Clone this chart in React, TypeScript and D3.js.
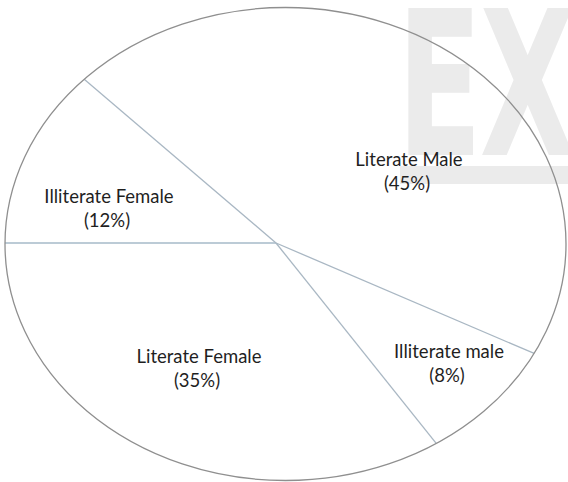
import React from "react";
import * as d3 from "d3";

// ---- data ----
const categories = ["Illiterate Female", "Literate Male", "Illiterate male", "Literate Female"];
const values = [12, 45, 8, 35];
const percentLabels = ["(12%)", "(45%)", "(8%)", "(35%)"];
const watermarkText = "EXA";

// ---- layout ----
const W = 568;
const H = 482;
const pieCenter = { x: 276, y: 243 };
const ell = { cx: 285.5, cy: 244, rx: 280.5, ry: 236.5 };
const stretch = 1.1; // horizontal stretch of the pie's angles
const labelPos = [
  { x: 109, y: 203 },
  { x: 409, y: 166 },
  { x: 449, y: 358 },
  { x: 199, y: 363 },
];

function rayToEllipse(theta: number): [number, number] {
  const dx = Math.sin(theta) * stretch;
  const dy = -Math.cos(theta);
  const px = pieCenter.x - ell.cx;
  const py = pieCenter.y - ell.cy;
  const a = (dx * dx) / (ell.rx * ell.rx) + (dy * dy) / (ell.ry * ell.ry);
  const b = 2 * ((px * dx) / (ell.rx * ell.rx) + (py * dy) / (ell.ry * ell.ry));
  const c = (px * px) / (ell.rx * ell.rx) + (py * py) / (ell.ry * ell.ry) - 1;
  const t = (-b + Math.sqrt(b * b - 4 * a * c)) / (2 * a);
  return [pieCenter.x + t * dx, pieCenter.y + t * dy];
}

export default function App() {
  const pie = d3
    .pie<number>()
    .sort(null)
    .startAngle(-Math.PI / 2)
    .endAngle((3 * Math.PI) / 2);
  const arcs = pie(values);
  const line = d3.line<[number, number]>();

  const slicePath = (s: number, e: number) => {
    const n = Math.max(8, Math.ceil(((e - s) * 180) / Math.PI));
    const pts: [number, number][] = [[pieCenter.x, pieCenter.y]];
    for (let i = 0; i <= n; i++) pts.push(rayToEllipse(s + ((e - s) * i) / n));
    return line(pts) + "Z";
  };

  const font = "Lato, 'Open Sans', sans-serif";

  return (
    <svg
      width={W}
      height={H}
      style={{ position: "absolute", left: 0, top: 0, background: "#fff" }}
    >
      <rect x={0} y={0} width={W} height={H} fill="#fff" />
      {arcs.map((a, i) => (
        <path key={"s" + i} d={slicePath(a.startAngle, a.endAngle)} fill="#fff" stroke="none" />
      ))}
      {/* watermark */}
      <g fill="#ebebeb">
        <text
          x={0}
          y={0}
          transform="translate(397,155) scale(0.62,1)"
          fontFamily="'DejaVu Sans', sans-serif"
          fontWeight="bold"
          fontSize={201}
          letterSpacing={-4}
        >
          {watermarkText}
        </text>
        <rect x={400} y={166} width={168} height={18} />
      </g>
      {/* spokes */}
      {arcs.map((a, i) => {
        const [x, y] = rayToEllipse(a.startAngle);
        const horiz = Math.abs(a.startAngle + Math.PI / 2) < 1e-6;
        return (
          <line
            key={"l" + i}
            x1={pieCenter.x}
            y1={pieCenter.y}
            x2={x}
            y2={y}
            stroke={horiz ? "#bccbd6" : "#a9b7c3"}
            strokeWidth={horiz ? 2 : 1.3}
          />
        );
      })}
      <ellipse
        cx={ell.cx}
        cy={ell.cy}
        rx={ell.rx}
        ry={ell.ry}
        fill="none"
        stroke="#8f8f8f"
        strokeWidth={1.3}
      />
      {categories.map((c, i) => (
        <g key={"t" + i} fontFamily={font} fontSize={18.5} fill="#1f1f1f" textAnchor="middle">
          <text x={labelPos[i].x} y={labelPos[i].y}>{c}</text>
          <text x={labelPos[i].x - 2} y={labelPos[i].y + 24}>{percentLabels[i]}</text>
        </g>
      ))}
    </svg>
  );
}
